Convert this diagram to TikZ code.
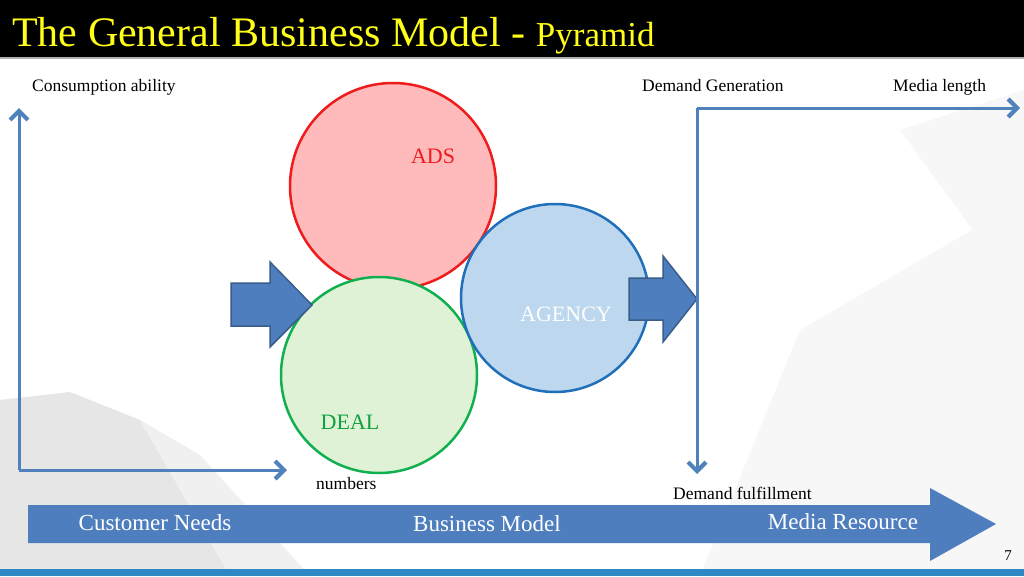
\documentclass[tikz,border=0pt]{standalone}
\usepackage{fontspec}
\setmainfont{Liberation Serif}
\usetikzlibrary{arrows.meta}
\definecolor{axblue}{HTML}{4F81BD}
\definecolor{arrowfill}{HTML}{4F7EBF}
\definecolor{arrowline}{HTML}{385D8A}
\definecolor{redfill}{HTML}{FFBBBB}
\definecolor{redline}{HTML}{EE1C1C}
\definecolor{bluefill}{HTML}{BDD7EE}
\definecolor{blueline}{HTML}{1F6FBA}
\definecolor{greenfill}{HTML}{E0F2D6}
\definecolor{greenline}{HTML}{10B050}
\definecolor{dealgreen}{HTML}{10A040}
\definecolor{titleyellow}{HTML}{FFFF1A}
\definecolor{stripblue}{HTML}{2E88C4}
\definecolor{wmgrey}{HTML}{E6E6E6}
\definecolor{wmlight}{HTML}{F7F7F7}
\tikzset{
  axis/.style={draw=axblue, line width=3pt, -{Straight Barb[length=9pt,width=18pt,line width=0pt 1.4]}},
  ball/.style={circle, line width=2.5pt, inner sep=0pt},
  blockarrow/.style={fill=arrowfill, draw=arrowline, line width=1.5pt, line join=miter},
  lbl/.style={font=\fontsize{17.5}{19}\selectfont, text=black, inner sep=0pt},
  bartext/.style={font=\fontsize{23}{26}\selectfont, text=white, inner sep=0pt},
}
\begin{document}
\begin{tikzpicture}[x=1pt,y=-1pt]
\useasboundingbox (0,0) rectangle (1024,576);
\fill[white] (0,0) rectangle (1024,576);
% faint watermark shapes
\fill[wmlight] (800,330) -- (1024,200) -- (1024,576) -- (700,576) -- cycle;
\fill[wmlight] (900,130) -- (1024,90) -- (1024,300) -- cycle;
\fill[wmgrey] (0,400) -- (70,392) -- (140,420) -- (230,576) -- (0,576) -- cycle;
\fill[wmgrey!60] (140,420) -- (200,455) -- (310,576) -- (230,576) -- cycle;
% title bar
\fill[black] (0,0) rectangle (1024,57);
\fill[gray!60] (0,57) rectangle (1024,59);
\node[anchor=base west, inner sep=0pt, text=titleyellow] (title) at (12,46)
  {\fontsize{42}{44}\selectfont The General Business Model - {\fontsize{35}{37}\selectfont Pyramid}};
% bottom strip
\fill[stripblue] (0,569) rectangle (1024,576);
% left axes
\coordinate (lo) at (19,470);
\coordinate (ltop) at (19,108);
\coordinate (lright) at (287,470);
\draw[axis] (lo) -- (ltop);
\draw[axis] (lo) -- (lright);
\node[lbl, anchor=base west] (cons) at (32,91) {Consumption ability};
\node[lbl, anchor=base west] (numb) at (316,489) {numbers};
% circles
\node[ball, fill=redfill, draw=redline, minimum size=206pt] (ads) at (393,186) {};
\node[ball, fill=greenfill, draw=greenline, minimum size=196pt] (deal) at (379,375) {};
\node[ball, fill=bluefill, draw=blueline, minimum size=188pt] (agency) at (555,298) {};
\node[inner sep=0pt, text=redline, font=\fontsize{22}{24}\selectfont] (adst) at (433,156) {ADS};
\node[inner sep=0pt, text=white, font=\fontsize{22}{24}\selectfont] (agt) at (566,314) {AGENCY};
\node[inner sep=0pt, text=dealgreen, font=\fontsize{22}{24}\selectfont] (dealt) at (350,422) {DEAL};
% block arrows
\draw[blockarrow] (231,283) -- (270,283) -- (270,262) -- (312,305) -- (270,347) -- (270,326) -- (231,326) -- cycle;
\draw[blockarrow] (629,278) -- (663,278) -- (663,256) -- (697,299) -- (663,342) -- (663,320) -- (629,320) -- cycle;
% right axes
\coordinate (ro) at (697,108);
\coordinate (rdown) at (697,474);
\coordinate (rright) at (1020,108);
\draw[axis] (ro) -- (rdown);
\draw[axis] (ro) -- (rright);
\node[lbl, anchor=base west] (dg) at (642,91) {Demand Generation};
\node[lbl, anchor=base west] (ml) at (893,91) {Media length};
\node[lbl, anchor=base west] (df) at (673,499) {Demand fulfillment};
% big bottom arrow
\fill[arrowfill] (28,505) -- (930,505) -- (930,488) -- (996,524) -- (930,561) -- (930,543) -- (28,543) -- cycle;
\node[bartext] (cn) at (155,523) {Customer Needs};
\node[bartext] (bm) at (487,524) {Business Model};
\node[bartext] (mr) at (843,522) {Media Resource};
\node[inner sep=0pt, font=\fontsize{15}{17}\selectfont] (pg) at (1008,556) {7};
\end{tikzpicture}
\end{document}
